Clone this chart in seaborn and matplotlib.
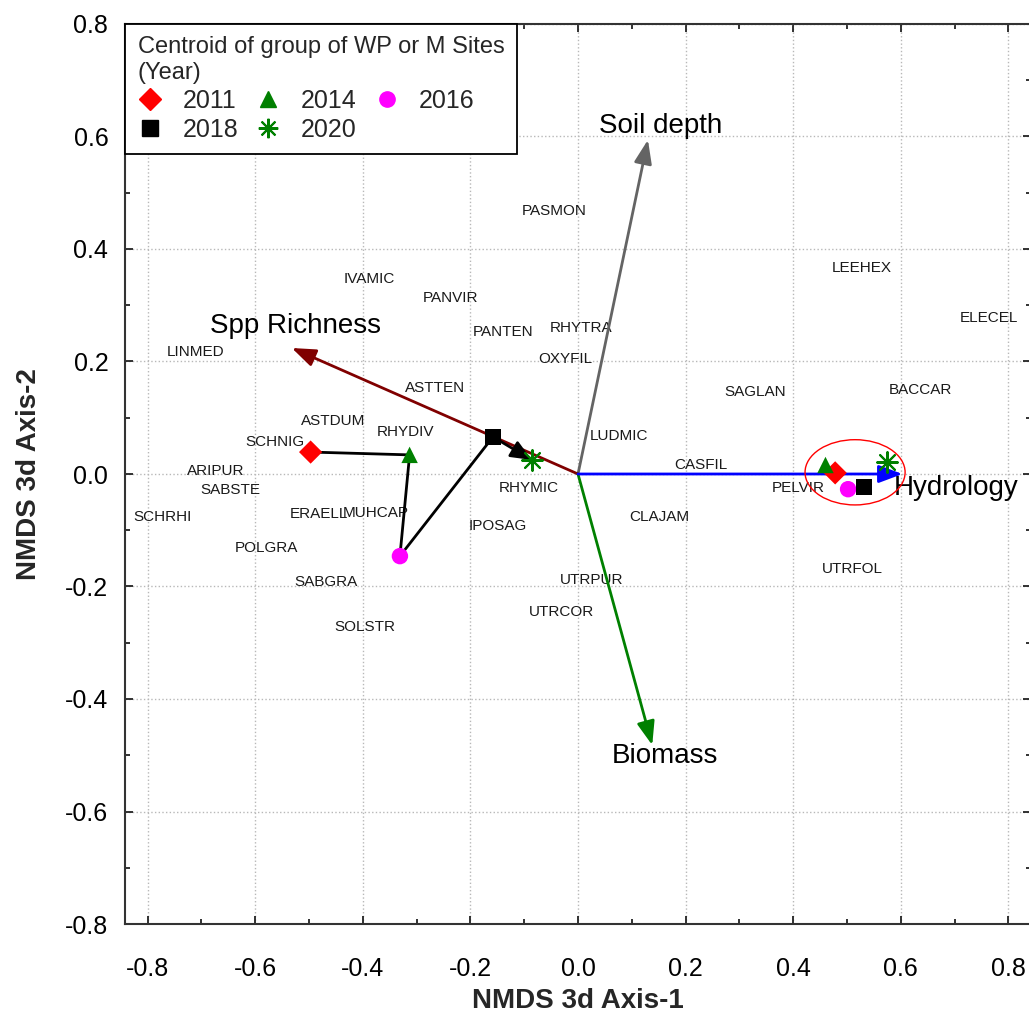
import matplotlib
matplotlib.use("Agg")
import matplotlib.pyplot as plt
from matplotlib.lines import Line2D
from matplotlib.patches import Ellipse
from matplotlib.ticker import MultipleLocator
import numpy as np
import pandas as pd
import seaborn as sns

# species scores
species = ['PASMON', 'IVAMIC', 'PANVIR', 'PANTEN', 'RHYTRA', 'OXYFIL', 'LINMED', 'ASTTEN',
           'ASTDUM', 'SCHNIG', 'RHYDIV', 'LUDMIC', 'ARIPUR', 'SABSTE', 'SCHRHI', 'ERAELL',
           'MUHCAP', 'RHYMIC', 'IPOSAG', 'CASFIL', 'CLAJAM', 'POLGRA', 'SABGRA', 'SOLSTR',
           'UTRPUR', 'UTRCOR', 'LEEHEX', 'ELECEL', 'SAGLAN', 'BACCAR', 'PELVIR', 'UTRFOL']
sp_x = [-0.045, -0.388, -0.237, -0.140, 0.005, -0.023, -0.711, -0.266,
        -0.456, -0.564, -0.320, 0.077, -0.674, -0.646, -0.772, -0.482,
        -0.375, -0.092, -0.149, 0.229, 0.151, -0.579, -0.469, -0.396,
        0.025, -0.031, 0.528, 0.764, 0.329, 0.636, 0.409, 0.510]
sp_y = [0.468, 0.347, 0.312, 0.253, 0.260, 0.204, 0.216, 0.152,
        0.095, 0.057, 0.074, 0.068, 0.005, -0.028, -0.076, -0.071,
        -0.069, -0.024, -0.092, 0.016, -0.077, -0.131, -0.192, -0.272,
        -0.188, -0.246, 0.367, 0.278, 0.145, 0.149, -0.025, -0.169]

# centroids of WP / M sites per year
years = [2011, 2014, 2016, 2018, 2020]
wp_x = [-0.497, -0.313, -0.331, -0.158, -0.086]
wp_y = [0.039, 0.034, -0.146, 0.066, 0.025]
m_x = [0.478, 0.460, 0.502, 0.532, 0.575]
m_y = [0.002, 0.016, -0.027, -0.023, 0.021]

# environmental vectors
vec_names = ['Soil depth', 'Spp Richness', 'Biomass', 'Hydrology']
vec_x = [0.130, -0.532, 0.138, 0.603]
vec_y = [0.594, 0.224, -0.482, 0.0]
vec_colors = ['#646464', '#800000', '#008000', '#0000ff']
lab_x = [0.154, -0.525, 0.161, 0.587]
lab_y = [0.606, 0.251, -0.514, -0.037]
lab_ha = ['center', 'center', 'center', 'left']

year_colors = {2011: '#ff0000', 2014: '#008000', 2016: '#ff00ff', 2018: '#000000', 2020: '#008000'}
year_markers = {2011: 'D', 2014: '^', 2016: 'o', 2018: 's', 2020: (8, 2, 0)}

cent = pd.DataFrame({
    'x': wp_x + m_x,
    'y': wp_y + m_y,
    'year': years + years,
    'group': ['WP'] * 5 + ['M'] * 5,
})

sns.set_style("ticks")
plt.rcParams['font.family'] = ['Liberation Sans', 'DejaVu Sans']

fig = plt.figure(figsize=(10.29, 10.21), dpi=100)
ax = fig.add_axes([125 / 1029, 97 / 1021, 906 / 1029, 900 / 1021])
ax.set_xlim(-0.842, 0.842)
ax.set_ylim(-0.8, 0.8)

ax.xaxis.set_major_locator(MultipleLocator(0.2))
ax.yaxis.set_major_locator(MultipleLocator(0.2))
ax.xaxis.set_minor_locator(MultipleLocator(0.1))
ax.yaxis.set_minor_locator(MultipleLocator(0.1))
ax.grid(True, which='major', linestyle=':', color='#b8b8b8', linewidth=1)
ax.set_axisbelow(True)
ax.tick_params(which='both', direction='in', top=True, right=True, width=1.3, colors='#222222')
ax.tick_params(which='major', length=6)
ax.tick_params(which='minor', length=3.5)
ax.tick_params(axis='x', which='major', labelsize=18, pad=24, labelcolor='black')
ax.tick_params(axis='y', which='major', labelsize=18, pad=12, labelcolor='black')
ax.set_xticklabels([f"{v:.1f}" for v in ax.get_xticks()])
ax.set_yticklabels([f"{v:.1f}" for v in ax.get_yticks()])
for s in ax.spines.values():
    s.set_linewidth(1.5)
    s.set_color('#333333')

# species labels
for name, x, y in zip(species, sp_x, sp_y):
    ax.text(x, y, name, fontsize=11, ha='center', va='center', color='#1a1a1a', zorder=2)

# vectors
for name, x, y, c, tx, ty, ha in zip(vec_names, vec_x, vec_y, vec_colors, lab_x, lab_y, lab_ha):
    ax.annotate('', xy=(x, y), xytext=(0, 0),
                arrowprops=dict(arrowstyle='-|>,head_length=0.8,head_width=0.3', color=c, lw=2,
                                shrinkA=0, shrinkB=0, mutation_scale=18), zorder=3)
    ax.text(tx, ty, name, fontsize=20, ha=ha, va='baseline', color='black', zorder=4)

# WP trajectory
wp = cent[cent['group'] == 'WP']
sns.lineplot(data=wp.iloc[:4], x='x', y='y', sort=False, color='black', lw=2, ax=ax, zorder=4)
ax.annotate('', xy=(wp_x[4], wp_y[4]), xytext=(wp_x[3], wp_y[3]),
            arrowprops=dict(arrowstyle='-|>,head_length=0.7,head_width=0.3', color='black', lw=2,
                            shrinkA=0, shrinkB=0, mutation_scale=18), zorder=4)

# centroids
filled = cent[cent['year'] != 2020]
sns.scatterplot(data=filled, x='x', y='y', hue='year', style='year',
                palette={k: year_colors[k] for k in years[:4]},
                markers={k: year_markers[k] for k in years[:4]},
                s=140, edgecolor='none', legend=False, ax=ax, zorder=5)
sns.scatterplot(data=cent[cent['year'] == 2020], x='x', y='y', color=year_colors[2020],
                marker=(8, 2, 0), s=220, linewidth=1.5, legend=False, ax=ax, zorder=5)

ax.add_patch(Ellipse((0.515, 0.003), 0.186, 0.116, fill=False, edgecolor='#ff0000', lw=1, zorder=6))

ax.set_xlabel('NMDS 3d Axis-1', fontsize=20, fontweight='bold')
ax.set_ylabel('NMDS 3d Axis-2', fontsize=20, fontweight='bold')
ax.xaxis.set_label_coords(0.5, -0.071)
ax.yaxis.set_label_coords(-0.092, 0.5)

# legend (column-major order so rows read 2011 2014 2016 / 2018 2020)
order = [2011, 2018, 2014, 2020, 2016]
handles = []
for yr in order:
    if yr == 2020:
        h = Line2D([], [], linestyle='none', marker=(8, 2, 0), markersize=14,
                   markeredgecolor=year_colors[yr], markeredgewidth=1.5)
    else:
        h = Line2D([], [], linestyle='none', marker=year_markers[yr], markersize=11,
                   markerfacecolor=year_colors[yr], markeredgecolor=year_colors[yr])
    handles.append(h)
leg = ax.legend(handles, [str(y) for y in order], ncol=3, loc='upper left',
                title='Centroid of group of WP or M Sites\n(Year)', title_fontsize=17, fontsize=18,
                alignment='left', frameon=True, fancybox=False, edgecolor='black', framealpha=1,
                borderaxespad=0, borderpad=0.5, labelspacing=0.2, handlelength=1.0,
                handletextpad=0.8, columnspacing=0.7)
leg.get_frame().set_linewidth(1.3)
leg.set_zorder(10)

fig.savefig('out.png', dpi=100)
